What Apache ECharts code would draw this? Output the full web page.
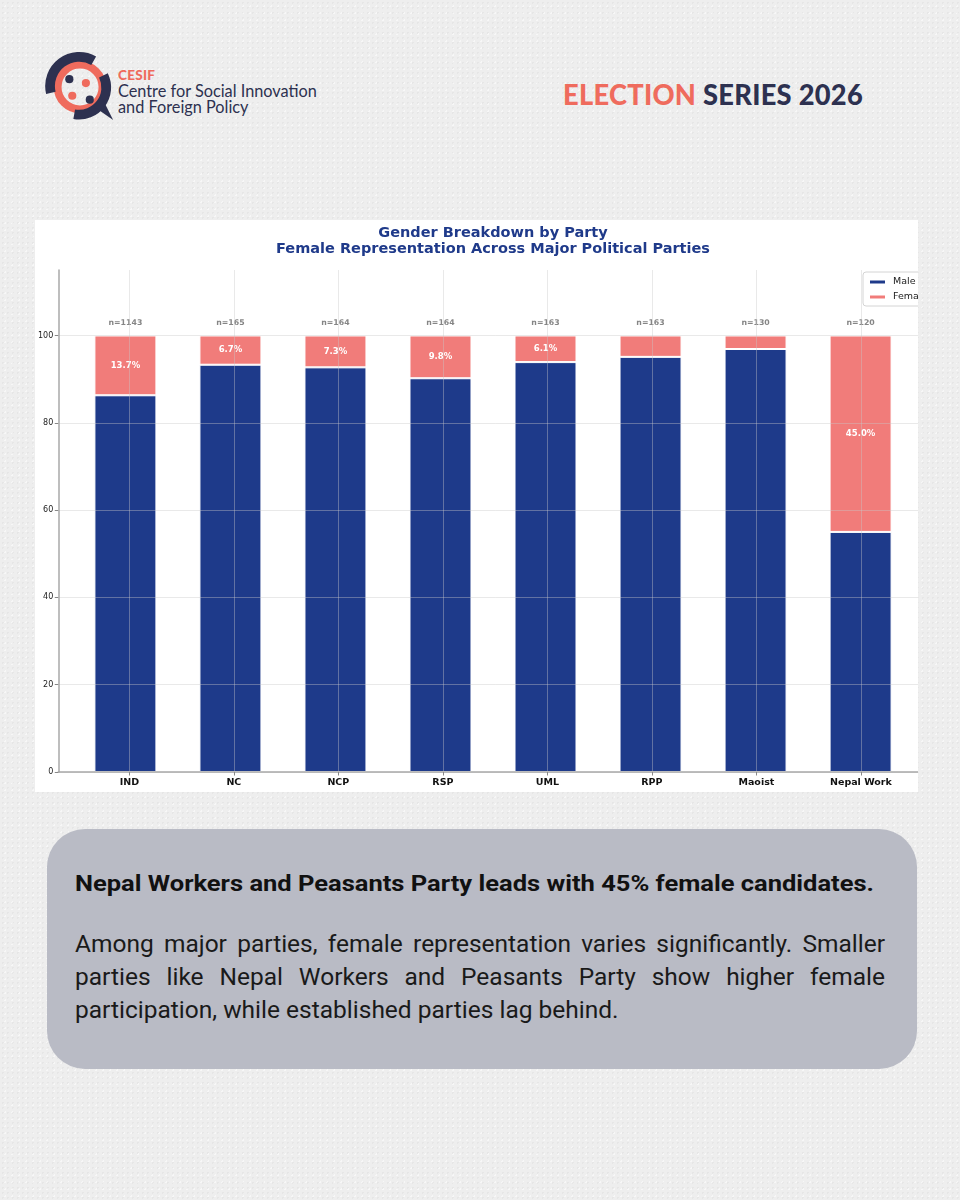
<!DOCTYPE html>
<html>
<head>
<meta charset="utf-8">
<script src="https://cdn.jsdelivr.net/npm/echarts@6/dist/echarts.min.js"></script>
<style>
  html, body { margin:0; padding:0; }
  body { width:960px; height:1200px; position:relative; overflow:hidden;
    background:#eeeeee;
    background-image: radial-gradient(rgba(0,0,0,0.035) 1px, transparent 1px), radial-gradient(rgba(255,255,255,0.5) 1px, transparent 1px);
    background-size: 5px 5px, 7px 7px; background-position: 0 0, 2px 3px;
  }
  #logo { position:absolute; left:45px; top:49px; width:74px; height:74px; }
  #org { position:absolute; left:118px; top:67px; font-family:"Lato","Noto Sans",sans-serif; color:#2d3150; line-height:16px; }
  #org .c { color:#ef6b5d; font-weight:900; font-size:13.5px; letter-spacing:0.3px; }
  #org .n { font-size:16.3px; font-weight:400; white-space:nowrap; }
  #series { position:absolute; left:563px; top:76px; font-family:"Lato","Noto Sans",sans-serif; font-weight:900; font-size:29px; white-space:nowrap; transform-origin:0 0; letter-spacing:0.3px; }
  #series .a { color:#ef6b5d; } #series .b { color:#2d3150; }
  #panel { position:absolute; left:35px; top:220px; width:883px; height:572px; overflow:hidden; background:#ffffff; }
  #chart { position:absolute; left:0; top:0; width:916px; height:572px; }
  #box { position:absolute; left:47px; top:829px; width:870px; height:240px; border-radius:38px; background:#b9bbc5; }
  #head { position:absolute; left:28px; top:42px; font-family:"Roboto","Noto Sans",sans-serif; font-weight:700; font-size:22px; color:#111; white-space:nowrap; transform-origin:0 0; }
  #body { position:absolute; left:28px; top:98px; width:810px; font-family:"Roboto","Noto Sans",sans-serif; font-size:24.5px; line-height:33px; color:#1a1a1a; }
  #body .j { text-align:justify; text-align-last:justify; white-space:nowrap; }
  #body .l { text-align:left; white-space:nowrap; }
</style>
</head>
<body>
<svg id="logo" viewBox="0 0 76 76">
  <g transform="translate(36,39)">
    <circle r="23" fill="none" stroke="#ef6b5d" stroke-width="8"/>
    <path d="M -30 6 A 30 30 0 0 1 14 -27" fill="none" stroke="#2d3150" stroke-width="10"/>
    <path d="M 24 -12 A 28 28 0 0 1 -6 28" fill="none" stroke="#2d3150" stroke-width="10"/>
    <path d="M 14 20 L 34 34 L 22 10 Z" fill="#2d3150"/>
    <circle cx="-11" cy="-8" r="4.2" fill="#2d3150"/>
    <circle cx="6" cy="-4" r="4.2" fill="#ef6b5d"/>
    <circle cx="-8" cy="9" r="4.2" fill="#ef6b5d"/>
    <circle cx="10" cy="13" r="4.2" fill="#2d3150"/>
  </g>
</svg>
<div id="org"><div class="c">CESIF</div><div class="n">Centre for Social Innovation</div><div class="n">and Foreign Policy</div></div>
<div id="series"><span class="a">ELECTION</span> <span class="b">SERIES 2026</span></div>
<div id="panel"><div id="chart"></div></div>
<div id="box">
  <div id="head">Nepal Workers and Peasants Party leads with 45% female candidates.</div>
  <div id="body">
    <div class="j">Among major parties, female representation varies significantly. Smaller</div>
    <div class="j">parties like Nepal Workers and Peasants Party show higher female</div>
    <div class="l">participation, while established parties lag behind.</div>
  </div>
</div>
<script>
const categories = ['IND', 'NC', 'NCP', 'RSP', 'UML', 'RPP', 'Maoist', 'Nepal Work'];
const malePct = [86.3, 93.3, 92.7, 90.2, 93.9, 95.1, 96.9, 55.0];
const femalePct = [13.7, 6.7, 7.3, 9.8, 6.1, 4.9, 3.1, 45.0];
const totals = [1143, 165, 164, 164, 163, 163, 130, 120];
const yTicks = [0, 20, 40, 60, 80, 100];
const catIdx = categories.map((c, i) => i);

function fitWidth(id, target) {
  const el = document.getElementById(id);
  const w = el.getBoundingClientRect().width;
  el.style.transform = 'scaleX(' + (target / w) + ')';
}
fitWidth('series', 300);
fitWidth('head', 799);

const font = '"DejaVu Sans", Verdana, sans-serif';
const chart = echarts.init(document.getElementById('chart'), null, { renderer: 'canvas' });
const gridLine = { show: true, lineStyle: { color: 'rgba(200,200,200,0.4)', width: 1 } };
// plot spans x in [-0.68, 7.68] (bar width 0.6 + 5% margins); bars grid covers the 8 category bands
const W = 916, L = 19, plotW = W - 2 * L, unit = plotW / 8.36, barL = L + 0.18 * unit;
chart.setOption({
  animation: false,
  textStyle: { fontFamily: font },
  title: {
    text: 'Gender Breakdown by Party\nFemale Representation Across Major Political Parties',
    left: 'center', top: 0,
    textStyle: { fontFamily: font, fontSize: 14.5, fontWeight: 'bold', color: '#1f3a8a', lineHeight: 16, align: 'center' }
  },
  legend: {
    data: ['Male', 'Female'], orient: 'vertical', left: 828, top: 52,
    icon: 'rect', itemWidth: 17, itemHeight: 5, itemGap: 5,
    backgroundColor: '#fff', borderColor: '#d4d4d4', borderWidth: 1, borderRadius: 3,
    padding: [5, 8, 4, 5],
    textStyle: { fontFamily: font, fontSize: 9.5, color: '#222', padding: [0, 0, 0, 2] }
  },
  grid: [
    { left: L, right: L, top: 50, bottom: 20 },
    { left: barL, right: barL, top: 50, bottom: 20 }
  ],
  xAxis: [
    {
      type: 'value', gridIndex: 0, min: -0.68, max: 7.68, z: 5,
      axisLine: { show: true, onZero: false, lineStyle: { color: '#a8a8a8', width: 1.5 } },
      axisTick: { show: true, length: 3.5, customValues: catIdx, lineStyle: { color: '#888' } },
      axisLabel: { customValues: catIdx, formatter: v => categories[Math.round(v)] || '',
        fontFamily: font, fontSize: 9.5, fontWeight: 'bold', color: '#111', margin: 6 },
      splitLine: gridLine
    },
    { type: 'category', gridIndex: 1, data: categories, show: false }
  ],
  yAxis: [
    {
      type: 'value', gridIndex: 0, min: 0, max: 115, z: 5,
      axisLine: { show: true, onZero: false, lineStyle: { color: '#a8a8a8', width: 1.5 } },
      axisTick: { show: true, length: 3.5, customValues: yTicks, lineStyle: { color: '#888' } },
      axisLabel: { customValues: yTicks, fontFamily: font, fontSize: 8, color: '#222', margin: 5 },
      splitLine: gridLine
    },
    { type: 'value', gridIndex: 1, min: 0, max: 115, show: false }
  ],
  series: [
    {
      name: 'Male', type: 'bar', stack: 'g', xAxisIndex: 1, yAxisIndex: 1, barWidth: 62,
      data: malePct,
      itemStyle: { color: '#1e3a8a', borderColor: '#ffffff', borderWidth: 1 }
    },
    {
      name: 'Female', type: 'bar', stack: 'g', xAxisIndex: 1, yAxisIndex: 1, barWidth: 62,
      data: femalePct,
      itemStyle: { color: '#f17c7a', borderColor: '#ffffff', borderWidth: 1 },
      label: { show: true, position: 'inside',
        formatter: p => femalePct[p.dataIndex] > 5 ? femalePct[p.dataIndex].toFixed(1) + '%' : '',
        fontFamily: font, fontSize: 8.5, fontWeight: 'bold', color: '#ffffff' }
    },
    {
      name: 'n', type: 'scatter', xAxisIndex: 1, yAxisIndex: 1, symbolSize: 0, silent: true,
      data: totals.map(() => 100),
      label: { show: true, position: 'top', distance: 9,
        formatter: p => 'n=' + totals[p.dataIndex],
        fontFamily: font, fontSize: 7.8, fontWeight: 'bold', color: '#666' }
    }
  ]
});
</script>
</body>
</html>
